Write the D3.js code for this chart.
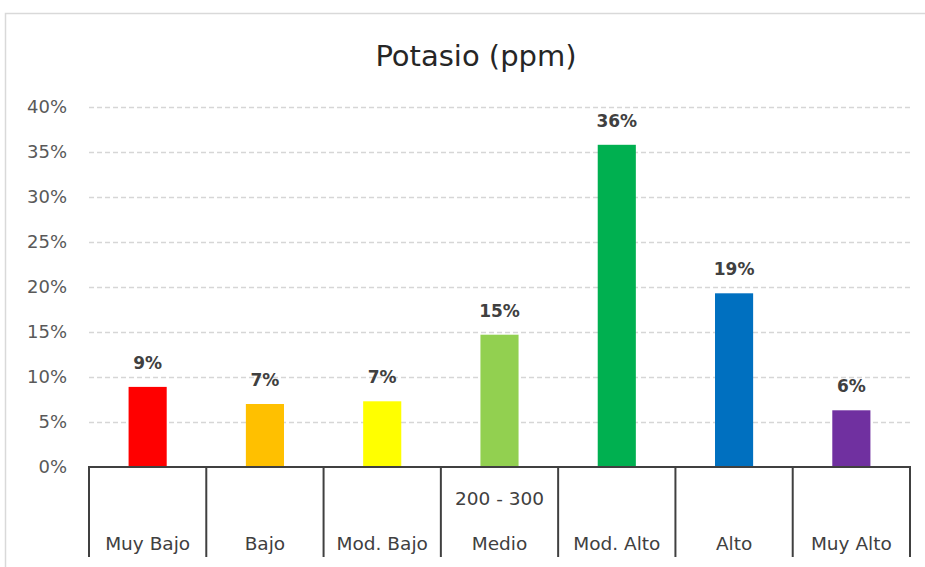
<!DOCTYPE html>
<html>
<head>
<meta charset="utf-8">
<script src="https://cdn.jsdelivr.net/npm/d3@7/dist/d3.min.js"></script>
<style>
  html, body { margin: 0; padding: 0; background: #fff; }
  svg { display: block; }
  text { font-family: "DejaVu Sans", "Open Sans", sans-serif; }
</style>
</head>
<body>
<svg id="chart" width="925" height="567"></svg>
<script>
// Potassium level distribution
const categories = ["Muy Bajo", "Bajo", "Mod. Bajo", "Medio", "Mod. Alto", "Alto", "Muy Alto"];
const subLabels  = ["", "", "", "200 - 300", "", "", ""];
const shares     = [0.089, 0.070, 0.073, 0.147, 0.358, 0.193, 0.063];
const barColors  = ["#FF0000", "#FFC000", "#FFFF00", "#92D050", "#00B050", "#0070C0", "#7030A0"];
const yTicks     = [0, 0.05, 0.10, 0.15, 0.20, 0.25, 0.30, 0.35, 0.40];
const title      = "Potasio (ppm)";

const svg = d3.select("#chart");
const plot = { left: 89, right: 910, top: 107, bottom: 467 };

// Chart frame
svg.append("rect")
  .attr("x", 5.5).attr("y", 13.5)
  .attr("width", 940).attr("height", 600)
  .attr("fill", "#fff").attr("stroke", "#d9d9d9").attr("stroke-width", 1.5);

// Title
svg.append("text")
  .attr("x", 476).attr("y", 66)
  .attr("text-anchor", "middle")
  .attr("font-size", 29)
  .attr("fill", "#262626")
  .text(title);

const x = d3.scaleBand()
  .domain(categories)
  .range([plot.left, plot.right])
  .paddingInner(0.675)
  .paddingOuter(0.3375);

const cell = d3.scaleBand()
  .domain(categories)
  .range([plot.left, plot.right]);

const y = d3.scaleLinear()
  .domain([0, 0.40])
  .range([plot.bottom, plot.top]);

// Dashed gridlines
const grid = svg.append("g")
  .attr("transform", `translate(${plot.left},0)`)
  .call(d3.axisLeft(y).tickValues(yTicks.slice(1)).tickSize(-(plot.right - plot.left)).tickFormat(""));
grid.select(".domain").remove();
grid.selectAll("line")
  .attr("stroke", "#d6d6d6")
  .attr("stroke-width", 1.5)
  .attr("stroke-dasharray", "5,3");

// Y axis labels
const yAxis = svg.append("g")
  .attr("transform", `translate(${plot.left - 22},0)`)
  .call(d3.axisLeft(y).tickValues(yTicks).tickSize(0).tickFormat(d3.format(".0%")));
yAxis.select(".domain").remove();
yAxis.selectAll("text")
  .attr("x", 0)
  .attr("font-size", 18)
  .attr("fill", "#595959")
  .style("font-family", "'DejaVu Sans', sans-serif");

// Bars
svg.append("g").selectAll("rect")
  .data(categories)
  .join("rect")
  .attr("x", d => x(d))
  .attr("width", x.bandwidth())
  .attr("y", (d, i) => y(shares[i]))
  .attr("height", (d, i) => y(0) - y(shares[i]))
  .attr("fill", (d, i) => barColors[i]);

// Value labels
svg.append("g").selectAll("text")
  .data(categories)
  .join("text")
  .attr("x", d => x(d) + x.bandwidth() / 2)
  .attr("y", (d, i) => y(shares[i]) - 18)
  .attr("text-anchor", "middle")
  .attr("font-size", 17)
  .attr("font-weight", "bold")
  .attr("fill", "#404040")
  .text((d, i) => d3.format(".0%")(shares[i]));

// Category table beneath the axis
const table = svg.append("g");
table.append("line")
  .attr("x1", plot.left - 1).attr("x2", plot.right + 1)
  .attr("y1", plot.bottom).attr("y2", plot.bottom)
  .attr("stroke", "#404040").attr("stroke-width", 2);

const edges = categories.map(d => cell(d)).concat([plot.right]);
table.selectAll("line.sep")
  .data(edges)
  .join("line")
  .attr("class", "sep")
  .attr("x1", d => d).attr("x2", d => d)
  .attr("y1", plot.bottom).attr("y2", 557)
  .attr("stroke", "#404040").attr("stroke-width", 2);

table.selectAll("text.cat")
  .data(categories)
  .join("text")
  .attr("class", "cat")
  .attr("x", d => cell(d) + cell.bandwidth() / 2)
  .attr("y", 550)
  .attr("text-anchor", "middle")
  .attr("font-size", 18.5)
  .attr("fill", "#404040")
  .text(d => d);

table.selectAll("text.sub")
  .data(categories)
  .join("text")
  .attr("class", "sub")
  .attr("x", d => cell(d) + cell.bandwidth() / 2)
  .attr("y", 505)
  .attr("text-anchor", "middle")
  .attr("font-size", 18.5)
  .attr("fill", "#404040")
  .text((d, i) => subLabels[i]);
</script>
</body>
</html>
